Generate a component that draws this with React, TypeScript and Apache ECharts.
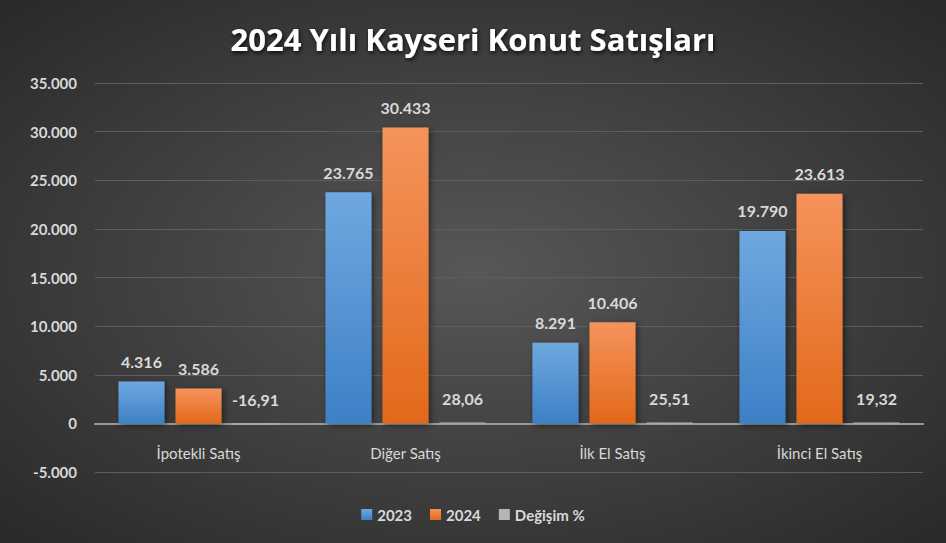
import React, { useEffect, useRef } from "react";
import * as echarts from "echarts";

const categories = ["İpotekli Satış", "Diğer Satış", "İlk El Satış", "İkinci El Satış"];
const sales2023 = [4316, 23765, 8291, 19790];
const sales2024 = [3586, 30433, 10406, 23613];
const changePct = [-16.91, 28.06, 25.51, 19.32];
const seriesNames = ["2023", "2024", "Değişim %"];
const yMin = -5000;
const yMax = 35000;
const yInterval = 5000;

const FONT = "Lato, 'Open Sans', sans-serif";
const TXT = "#d9d9d9";

const fmtThousands = (v: number) =>
  Math.round(v).toString().replace(/\B(?=(\d{3})+(?!\d))/g, ".");
const fmtPct = (v: number) => v.toFixed(2).replace(".", ",");

const GRID_TOP = 83;
const GRID_BOTTOM = 71;
const CHART_H = 543;

export default function App() {
  const ref = useRef<HTMLDivElement>(null);
  useEffect(() => {
    document.body.style.margin = "0";
    if (!ref.current) return;
    const chart = echarts.init(ref.current, undefined, { renderer: "svg" });
    const gridH = CHART_H - GRID_TOP - GRID_BOTTOM;
    const zeroOffset = -(gridH * (0 - yMin)) / (yMax - yMin);
    const labelBase = {
      show: true,
      position: "top" as const,
      distance: 12,
      color: TXT,
      fontFamily: FONT,
      fontSize: 16,
      fontWeight: "bold" as const,
    };
    const shadow = {
      shadowColor: "rgba(0,0,0,0.5)",
      shadowBlur: 6,
      shadowOffsetX: 2,
      shadowOffsetY: 2,
    };
    chart.setOption({
      animation: false,
      backgroundColor: {
        type: "radial",
        x: 0.5,
        y: 0.5,
        r: 0.75,
        colorStops: [
          { offset: 0, color: "#575757" },
          { offset: 1, color: "#262626" },
        ],
      },
      title: {
        text: "2024 Yılı Kayseri Konut Satışları",
        left: "center",
        top: 18,
        textStyle: {
          color: "#ffffff",
          fontFamily: "'Open Sans', sans-serif",
          fontSize: 31,
          fontWeight: "bold",
          textShadowColor: "rgba(0,0,0,0.8)",
          textShadowBlur: 4,
          textShadowOffsetX: 1,
          textShadowOffsetY: 2,
        },
      },
      legend: {
        bottom: 16,
        left: "center",
        itemWidth: 11,
        itemHeight: 11,
        itemGap: 18,
        icon: "rect",
        textStyle: { color: TXT, fontFamily: FONT, fontSize: 15, fontWeight: "bold" },
        data: seriesNames,
      },
      grid: { left: 95, right: 23, top: GRID_TOP, bottom: GRID_BOTTOM, containLabel: false },
      xAxis: {
        type: "category",
        data: categories,
        position: "bottom",
        offset: zeroOffset,
        axisTick: { show: false },
        axisLine: { show: true, onZero: false, lineStyle: { color: "#9a9a9a", width: 2 } },
        axisLabel: { color: TXT, fontFamily: FONT, fontSize: 15, margin: 22 },
      },
      yAxis: {
        type: "value",
        min: yMin,
        max: yMax,
        interval: yInterval,
        axisLine: { show: false },
        axisTick: { show: false },
        splitLine: { lineStyle: { color: "#5e5e5e", width: 1 } },
        axisLabel: {
          color: TXT,
          fontFamily: FONT,
          fontSize: 15,
          fontWeight: "bold",
          margin: 18,
          formatter: (v: number) => (v < 0 ? "-" + fmtThousands(-v) : fmtThousands(v)),
        },
      },
      series: [
        {
          name: seriesNames[0],
          type: "bar",
          data: sales2023,
          barWidth: 46,
          barGap: "24%",
          itemStyle: {
            color: {
              type: "linear", x: 0, y: 0, x2: 0, y2: 1,
              colorStops: [
                { offset: 0, color: "#6fa8e0" },
                { offset: 1, color: "#3d80c6" },
              ],
            },
            ...shadow,
          },
          label: { ...labelBase, formatter: (p: any) => fmtThousands(p.value) },
        },
        {
          name: seriesNames[1],
          type: "bar",
          data: sales2024,
          barWidth: 46,
          barGap: "24%",
          itemStyle: {
            color: {
              type: "linear", x: 0, y: 0, x2: 0, y2: 1,
              colorStops: [
                { offset: 0, color: "#f5935c" },
                { offset: 1, color: "#e2691a" },
              ],
            },
            ...shadow,
          },
          label: { ...labelBase, formatter: (p: any) => fmtThousands(p.value) },
        },
        {
          name: seriesNames[2],
          type: "bar",
          data: changePct,
          barWidth: 46,
          barGap: "24%",
          barMinHeight: 1,
          itemStyle: { color: "#b5b5b5" },
          label: { ...labelBase, distance: 16, formatter: (p: any) => fmtPct(p.value) },
          z: 5,
        },
      ],
    });
    return () => chart.dispose();
  }, []);
  return <div ref={ref} style={{ width: 946, height: 543 }} />;
}
